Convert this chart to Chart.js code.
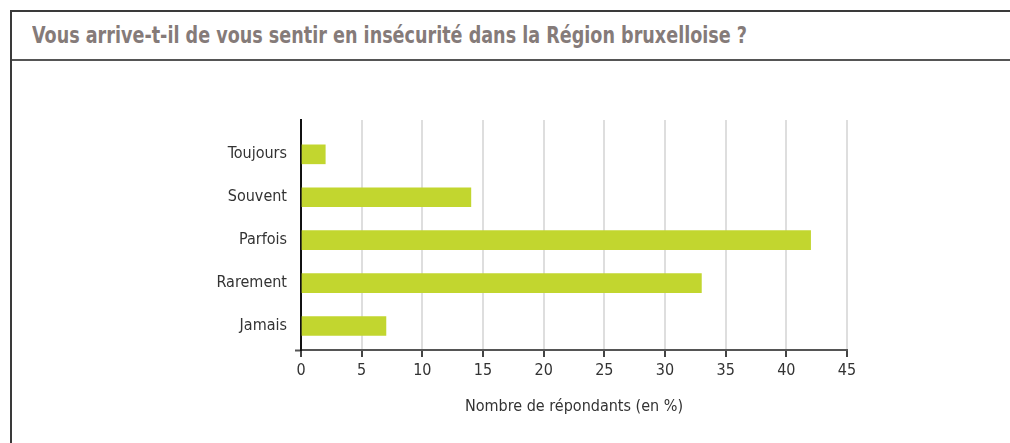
<!DOCTYPE html>
<html lang="fr">
<head>
    <meta charset="UTF-8">
    <title>Insécurité dans la Région bruxelloise</title>
    <style>
        body {
            margin: 0;
            width: 1010px;
            height: 443px;
            overflow: hidden;
            background: #fff;
            font-family: "Liberation Sans Narrow", "DejaVu Sans Condensed", "Roboto", sans-serif;
        }
        .frame {
            position: absolute;
            left: 10px;
            top: 10px;
            width: 1010px;
            height: 440px;
            border-left: 2px solid #3a3a3a;
            border-top: 2px solid #3a3a3a;
        }
        .titre {
            height: 47px;
            line-height: 47px;
            padding-left: 20px;
            border-bottom: 2px solid #555;
            color: #857b79;
            font-size: 23px;
            font-weight: bold;
            white-space: nowrap;
        }
        .titre span {
            display: inline-block;
            transform: scaleX(0.85);
            transform-origin: left center;
        }
        #chartContainer {
            position: absolute;
            left: 0;
            top: 62px;
            width: 1010px;
            height: 381px;
        }
    </style>
</head>
<body>

<div class="frame">
    <div class="titre"><span>Vous arrive-t-il de vous sentir en insécurité dans la Région bruxelloise ?</span></div>
</div>
<div id="chartContainer">
    <canvas id="myChart"></canvas>
</div>

<script src="https://cdn.jsdelivr.net/npm/chart.js"></script>
<script>
    const categories = ['Toujours', 'Souvent', 'Parfois', 'Rarement', 'Jamais'];
    const values = [2, 14, 42, 33, 7];
    const xMax = 45;
    const xStep = 5;
    const axisTitle = 'Nombre de répondants (en %)';

    // category index range shown on the y axis (leaves room above the first bar)
    const yMin = -0.8;
    const yMax = 4.56;

    Chart.defaults.font.family = '"Liberation Sans Narrow", "DejaVu Sans Condensed", "Roboto", sans-serif';
    Chart.defaults.color = '#333';

    const ctx = document.getElementById('myChart').getContext('2d');

    new Chart(ctx, {
        type: 'bar',
        data: {
            datasets: [{
                data: values.map((v, i) => ({ x: v, y: i })),
                backgroundColor: '#c2d62f',
                borderWidth: 0,
                barThickness: 19
            }]
        },
        options: {
            indexAxis: 'y',
            responsive: true,
            maintainAspectRatio: false,
            animation: false,
            layout: {
                padding: { left: 0, right: 163, top: 58, bottom: 0 }
            },
            plugins: {
                legend: { display: false },
                tooltip: { enabled: false }
            },
            scales: {
                x: {
                    type: 'linear',
                    min: 0,
                    max: xMax,
                    z: 1,
                    ticks: {
                        stepSize: xStep,
                        padding: 4,
                        font: { size: 16 },
                        color: '#333'
                    },
                    grid: {
                        color: 'rgba(0, 0, 0, 0.13)',
                        lineWidth: 2,
                        drawTicks: true,
                        tickLength: 7,
                        tickWidth: 2,
                        tickColor: '#444'
                    },
                    border: {
                        display: true,
                        color: '#555',
                        width: 2
                    },
                    title: {
                        display: true,
                        text: axisTitle,
                        font: { size: 16 },
                        color: '#333',
                        padding: { top: 0, bottom: 27 }
                    },
                    afterFit: (scale) => { scale.height = 93; }
                },
                y: {
                    type: 'linear',
                    reverse: true,
                    offset: false,
                    min: yMin,
                    max: yMax,
                    z: 1,
                    afterBuildTicks: (scale) => {
                        scale.ticks = categories.map((c, i) => ({ value: i })).concat([{ value: yMax }]);
                    },
                    ticks: {
                        padding: 8,
                        font: { size: 16 },
                        color: '#333',
                        callback: (v) => Number.isInteger(v) ? categories[v] : ''
                    },
                    grid: {
                        offset: false,
                        drawOnChartArea: false,
                        drawTicks: true,
                        tickLength: 6,
                        tickWidth: 2,
                        tickColor: (c) => (c.tick && c.tick.value === yMax) ? '#555' : 'rgba(0,0,0,0)'
                    },
                    border: {
                        display: true,
                        color: '#111',
                        width: 2
                    },
                    afterFit: (scale) => { scale.width = 301; }
                }
            }
        }
    });
</script>

</body>
</html>
